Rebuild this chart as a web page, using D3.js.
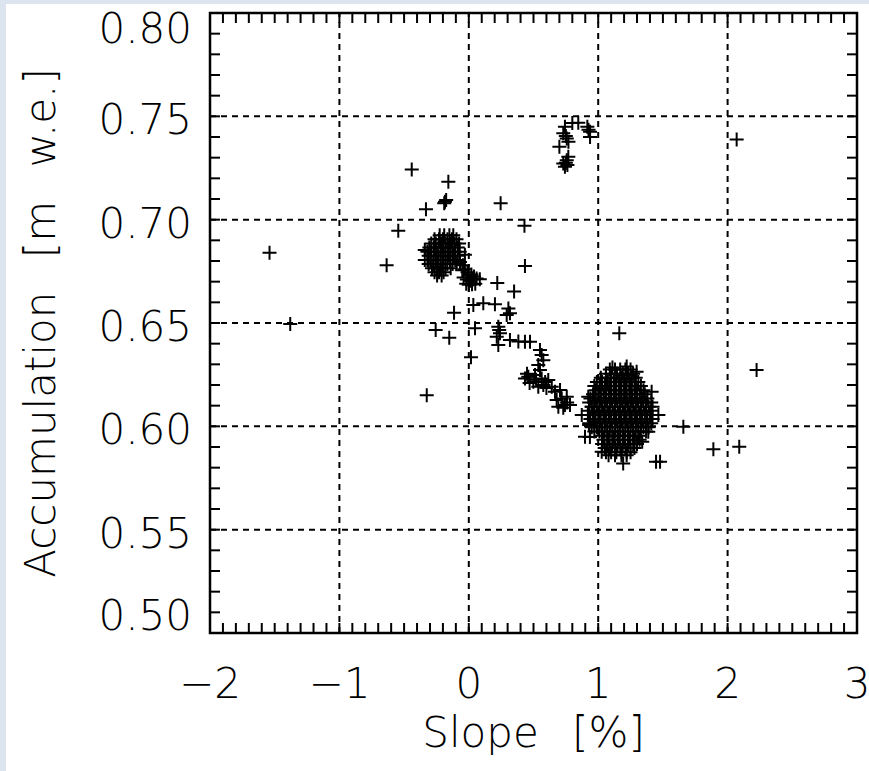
<!DOCTYPE html>
<meta charset="utf-8">
<style>
  body { margin: 0; background: #dbe4ef; }
  svg { display: block; }
  .lbl { font-family: "DejaVu Sans", sans-serif; font-size: 42px; font-weight: 200; fill: #000; }
  .title { word-spacing: 20px; }
  .grid { stroke: #000; stroke-width: 2; stroke-dasharray: 6,5; fill: none; }
  .tick { stroke: #000; stroke-width: 2; }
  .frame { fill: none; stroke: #000; stroke-width: 2.5; }
  .pt { fill: none; stroke: #000; stroke-width: 2; }
</style>
<body>
<script src="https://d3js.org/d3.v7.min.js"></script>
<script>
// tick labels
var xTicks = [-2, -1, 0, 1, 2, 3];
var yTicks = [0.50, 0.55, 0.60, 0.65, 0.70, 0.75, 0.80];
var xTitle = "Slope [%]";
var yTitle = "Accumulation [m w.e.]";

// scattered single points [slope, accumulation]
var outliers = [
  [-1.54, 0.684], [-1.38, 0.6495], [-0.635, 0.678], [-0.545, 0.6946], [-0.441, 0.7243],
  [-0.331, 0.705], [-0.158, 0.7183], [-0.184, 0.7087], [-0.175, 0.7095], [-0.19, 0.708],
  [0.246, 0.708], [0.43, 0.697], [0.434, 0.6776], [-0.325, 0.6151], [-0.256, 0.6466],
  [-0.151, 0.6429], [-0.114, 0.655], [0.017, 0.6334], [0.048, 0.6474], [0.035, 0.6587],
  [0.112, 0.6595], [0.202, 0.6591], [0.22, 0.6693], [0.35, 0.6653], [-0.34, 0.6853],
  [-0.34, 0.6805], [1.163, 0.645], [1.658, 0.5998], [1.89, 0.5889], [2.09, 0.5901],
  [2.224, 0.6272], [2.07, 0.7388], [1.193, 0.582], [1.447, 0.5829], [1.478, 0.5829]
];

// cluster near 0.8 % / 0.74 m w.e.
var topCluster = [
  [0.846, 0.7469], [0.80, 0.7468], [0.743, 0.7449], [0.73, 0.7418], [0.757, 0.7393],
  [0.70, 0.7353], [0.77, 0.7377], [0.75, 0.7405], [0.937, 0.7425], [0.916, 0.745],
  [0.937, 0.740], [0.925, 0.7435], [0.757, 0.7288], [0.743, 0.7256], [0.769, 0.7305],
  [0.73, 0.7272], [0.75, 0.7275], [0.762, 0.7265]
];

// small groups along the slope 0 .. 0.8 band
var chain = [
  [-0.05, 0.6755], [-0.03, 0.676], [-0.01, 0.6745], [0.0, 0.673], [0.02, 0.6735],
  [0.04, 0.6725], [-0.04, 0.672], [-0.015, 0.671], [0.01, 0.6705], [0.03, 0.671],
  [0.06, 0.6715], [0.085, 0.6712], [-0.02, 0.669], [0.0, 0.6685], [0.025, 0.6688],
  [-0.068, 0.6795], [-0.03, 0.683], [-0.045, 0.678], [0.05, 0.669],
  [0.306, 0.657], [0.318, 0.6547], [0.293, 0.6539],
  [0.228, 0.6482], [0.241, 0.645], [0.216, 0.6433], [0.228, 0.6393], [0.235, 0.6466],
  [0.318, 0.6418], [0.383, 0.641], [0.434, 0.6409], [0.473, 0.6409],
  [0.55, 0.6369], [0.563, 0.6345], [0.576, 0.632], [0.537, 0.6297], [0.55, 0.6272],
  [0.46, 0.624], [0.512, 0.6248], [0.563, 0.6232], [0.434, 0.6232], [0.499, 0.6216],
  [0.614, 0.6224], [0.576, 0.62], [0.537, 0.6192], [0.641, 0.6192], [0.47, 0.621],
  [0.52, 0.6225], [0.59, 0.6215], [0.45, 0.6255], [0.60, 0.6185],
  [0.666, 0.6167], [0.705, 0.6176], [0.718, 0.6135], [0.679, 0.6127], [0.757, 0.6143],
  [0.743, 0.6103], [0.782, 0.6103], [0.692, 0.6095], [0.73, 0.609], [0.76, 0.6115]
];

// dense cluster near -0.2 % : rows of [accumulation, slopes...]
var westRows = [
  [0.6925, -0.225, -0.19, -0.15, -0.12],
  [0.6905, -0.265, -0.23, -0.20, -0.165, -0.13, -0.095],
  [0.6885, -0.29, -0.255, -0.215, -0.18, -0.145, -0.11, -0.075],
  [0.6865, -0.305, -0.27, -0.235, -0.20, -0.16, -0.125, -0.085],
  [0.6845, -0.32, -0.29, -0.25, -0.215, -0.18, -0.14, -0.105, -0.07],
  [0.6825, -0.31, -0.27, -0.235, -0.195, -0.16, -0.12, -0.085],
  [0.6805, -0.32, -0.295, -0.255, -0.22, -0.18, -0.145, -0.105],
  [0.6785, -0.31, -0.275, -0.24, -0.20, -0.165, -0.125, -0.095],
  [0.6765, -0.285, -0.25, -0.215, -0.18, -0.14],
  [0.6745, -0.265, -0.23, -0.195],
  [0.673, -0.245, -0.21]
];

// dense cluster near 1.2 % : rows of [accumulation, slopes...]
var eastRows = [
  [0.6275, 1.09, 1.13, 1.17, 1.21, 1.25],
  [0.6255, 1.06, 1.10, 1.145, 1.19, 1.23, 1.27],
  [0.6235, 1.02, 1.06, 1.10, 1.14, 1.18, 1.22, 1.26, 1.29],
  [0.6215, 0.99, 1.03, 1.075, 1.12, 1.16, 1.20, 1.24, 1.28, 1.31],
  [0.6195, 0.97, 1.01, 1.05, 1.09, 1.13, 1.17, 1.21, 1.25, 1.29, 1.33],
  [0.6175, 0.98, 1.02, 1.06, 1.10, 1.14, 1.18, 1.22, 1.26, 1.30, 1.35],
  [0.6155, 0.96, 1.00, 1.04, 1.08, 1.12, 1.16, 1.20, 1.24, 1.28, 1.32, 1.36],
  [0.6135, 0.94, 0.98, 1.02, 1.06, 1.10, 1.14, 1.18, 1.22, 1.26, 1.30, 1.34, 1.38],
  [0.6115, 0.93, 0.97, 1.01, 1.05, 1.09, 1.13, 1.17, 1.21, 1.25, 1.29, 1.33, 1.37, 1.41],
  [0.6095, 0.95, 0.99, 1.03, 1.07, 1.11, 1.15, 1.19, 1.23, 1.27, 1.31, 1.35, 1.39, 1.42],
  [0.6075, 0.93, 0.97, 1.01, 1.05, 1.09, 1.13, 1.17, 1.21, 1.25, 1.29, 1.33, 1.37, 1.41],
  [0.6055, 0.92, 0.96, 1.00, 1.04, 1.08, 1.12, 1.16, 1.20, 1.24, 1.28, 1.32, 1.36, 1.40],
  [0.6035, 0.94, 0.98, 1.02, 1.06, 1.10, 1.14, 1.18, 1.22, 1.26, 1.30, 1.34, 1.38, 1.42],
  [0.6015, 0.93, 0.97, 1.01, 1.05, 1.09, 1.13, 1.17, 1.21, 1.25, 1.29, 1.33, 1.37, 1.41],
  [0.5995, 0.95, 0.99, 1.03, 1.07, 1.11, 1.15, 1.19, 1.23, 1.27, 1.31, 1.35, 1.39],
  [0.5975, 0.97, 1.01, 1.05, 1.09, 1.13, 1.17, 1.21, 1.25, 1.29, 1.33, 1.37],
  [0.5955, 1.03, 1.07, 1.11, 1.15, 1.19, 1.23, 1.27, 1.31],
  [0.5935, 1.04, 1.08, 1.12, 1.16, 1.20, 1.24, 1.28, 1.32],
  [0.5915, 1.03, 1.07, 1.11, 1.15, 1.19, 1.23, 1.27, 1.30],
  [0.5895, 1.05, 1.09, 1.13, 1.17, 1.21, 1.25, 1.28],
  [0.5875, 1.06, 1.10, 1.14, 1.18, 1.22, 1.25],
  [0.586, 1.08, 1.13, 1.18, 1.22]
];
var eastEdge = [
  [0.873, 0.6055], [0.898, 0.595], [0.923, 0.6143], [0.95, 0.6095], [1.027, 0.5877],
  [1.22, 0.6289], [1.297, 0.6264], [1.413, 0.6167], [1.465, 0.6055], [1.387, 0.5974],
  [0.93, 0.6006], [0.936, 0.5948], [1.34, 0.5925], [1.11, 0.6285]
];

var W = 869, H = 771;
var pLeft = 210, pRight = 857, pTop = 13, pBottom = 633;

var x = d3.scaleLinear().domain([-2, 3]).range([pLeft, pRight]);
var y = d3.scaleLinear().domain([0.5, 0.8]).range([pBottom, pTop]);

var svg = d3.select("body").append("svg")
    .attr("width", W)
    .attr("height", H);

svg.append("rect")
    .attr("x", 6).attr("y", 4)
    .attr("width", W - 6).attr("height", H - 4)
    .attr("fill", "#fff");

// dashed grid at the major ticks
svg.append("g").selectAll("line")
    .data(xTicks.slice(1, -1))
  .enter().append("line")
    .attr("class", "grid")
    .attr("x1", function(d) { return x(d); })
    .attr("x2", function(d) { return x(d); })
    .attr("y1", pBottom).attr("y2", pTop);

svg.append("g").selectAll("line")
    .data(yTicks.slice(1, -1))
  .enter().append("line")
    .attr("class", "grid")
    .attr("y1", function(d) { return y(d); })
    .attr("y2", function(d) { return y(d); })
    .attr("x1", pLeft).attr("x2", pRight);

// minor ticks on all four sides
var tl = 10;
var xMinor = x.ticks(50), yMinor = y.ticks(30);
var ticks = svg.append("g");
xMinor.forEach(function(d) {
  ticks.append("line").attr("class", "tick")
    .attr("x1", x(d)).attr("x2", x(d)).attr("y1", pBottom).attr("y2", pBottom - tl);
  ticks.append("line").attr("class", "tick")
    .attr("x1", x(d)).attr("x2", x(d)).attr("y1", pTop).attr("y2", pTop + tl);
});
yMinor.forEach(function(d) {
  ticks.append("line").attr("class", "tick")
    .attr("y1", y(d)).attr("y2", y(d)).attr("x1", pLeft).attr("x2", pLeft + tl);
  ticks.append("line").attr("class", "tick")
    .attr("y1", y(d)).attr("y2", y(d)).attr("x1", pRight).attr("x2", pRight - tl);
});

svg.append("rect").attr("class", "frame")
    .attr("x", pLeft).attr("y", pTop)
    .attr("width", pRight - pLeft).attr("height", pBottom - pTop);

// points
var pts = outliers.concat(topCluster, chain, eastEdge);
westRows.concat(eastRows).forEach(function(r) {
  r.slice(1).forEach(function(s) { pts.push([s, r[0]]); });
});

svg.append("g").selectAll("path")
    .data(pts)
  .enter().append("path")
    .attr("class", "pt")
    .attr("d", "M-7,0H7M0,-7V7")
    .attr("transform", function(d) { return "translate(" + x(d[0]) + "," + y(d[1]) + ")"; });

// tick labels
svg.append("g").selectAll("text")
    .data(xTicks)
  .enter().append("text")
    .attr("class", "lbl")
    .attr("x", function(d) { return x(d); })
    .attr("y", 698)
    .attr("text-anchor", "middle")
    .text(function(d) { return d < 0 ? "\u2212" + Math.abs(d) : d; });

svg.append("g").selectAll("text")
    .data(yTicks)
  .enter().append("text")
    .attr("class", "lbl")
    .attr("x", 192)
    .attr("y", function(d) { return Math.max(pTop + 30, Math.min(pBottom - 3, y(d) + 18)); })
    .attr("text-anchor", "end")
    .text(function(d) { return d3.format(".2f")(d); });

svg.append("text")
    .attr("class", "lbl title")
    .attr("x", (pLeft + pRight) / 2)
    .attr("y", 747)
    .attr("text-anchor", "middle")
    .text(xTitle);

svg.append("text")
    .attr("class", "lbl title")
    .attr("transform", "translate(55," + (pTop + pBottom) / 2 + ") rotate(-90)")
    .attr("text-anchor", "middle")
    .text(yTitle);
</script>
</body>
